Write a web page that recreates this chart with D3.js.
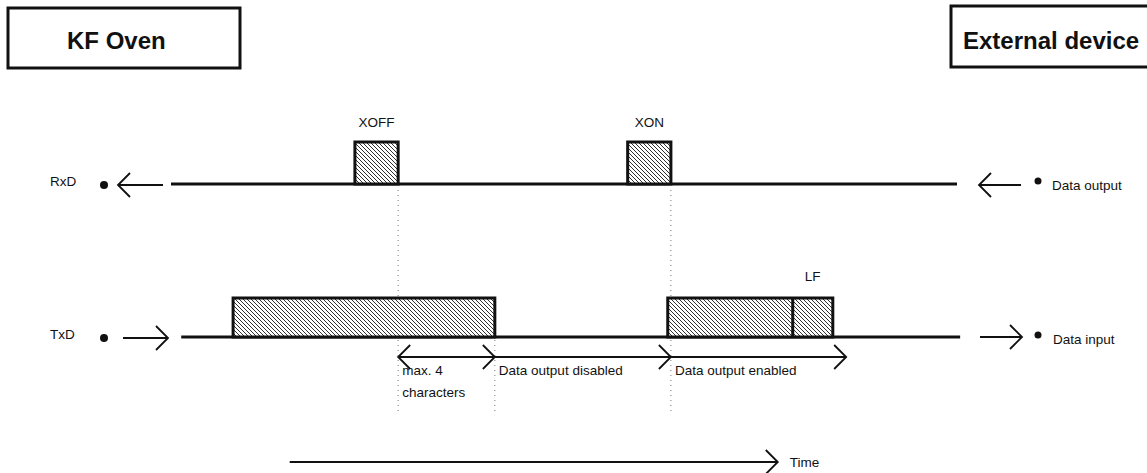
<!DOCTYPE html>
<html>
<head>
<meta charset="utf-8">
<script src="https://cdn.jsdelivr.net/npm/d3@7"></script>
<style>
  body { margin: 0; background: #fff; }
  text { font-family: "Liberation Sans", Arial, sans-serif; fill: #111; }
</style>
</head>
<body>
<svg></svg>
<script>
var screenWidth = 1147
var screenHeight = 473

// time values (arbitrary units, 0..100 along the signal lines)
var lineSpan = [0, 100]
var rxdFrames = [
  {label: "XOFF", start: 23.4, end: 28.9},
  {label: "XON", start: 58.1, end: 63.6}
]
var txdFrames = [
  {label: "", start: 7.9, end: 41.2},
  {label: "LF", start: 63.2, end: 84.2, split: 79.1}
]
var txdSpan = [1.3, 100.4]
var markers = [28.9, 41.2, 63.6]
var intervals = [
  {from: 28.9, to: 41.2, both: true, text: ["max. 4", "characters"]},
  {from: 41.2, to: 63.6, both: false, text: ["Data output disabled"]},
  {from: 63.6, to: 85.9, both: false, text: ["Data output enabled"]}
]
var timeSpan = [15.1, 77.2]

var x = d3.scaleLinear().domain(lineSpan).range([171, 957])

var rxdY = 184, txdY = 337, frameTopRx = 142, frameTopTx = 298
var fs = 13.5

var svg = d3.select('svg')
svg.attr("width", screenWidth)
svg.attr("height", screenHeight)

var pat = svg.append("defs").append("pattern")
  .attr("id", "hatch")
  .attr("patternUnits", "userSpaceOnUse")
  .attr("width", 4).attr("height", 4)
pat.append("rect").attr("width", 4).attr("height", 4).attr("fill", "#fff")
pat.append("path").attr("d", "M-1,-1 L5,5 M3,-1 L5,1 M-1,3 L1,5")
  .attr("stroke", "#333").attr("stroke-width", 1)

function headerBox(x0, y0, w, h, label, tx){
  svg.append("rect").attr("x", x0).attr("y", y0).attr("width", w).attr("height", h)
    .attr("fill", "none").attr("stroke", "#111").attr("stroke-width", 3)
  svg.append("text").attr("x", tx).attr("y", 49)
    .attr("font-size", 24).attr("font-weight", "bold").text(label)
}
headerBox(8, 8, 232, 60, "KF Oven", 67)
headerBox(951, 6, 210, 61, "External device", 963)

function chevron(tipX, y, dir, len, half){
  svg.append("path")
    .attr("d", "M" + (tipX - dir * len) + "," + (y - half) + " L" + tipX + "," + y + " L" + (tipX - dir * len) + "," + (y + half))
    .attr("fill", "none").attr("stroke", "#111").attr("stroke-width", 1.8)
}
function arrow(x1, x2, y, both){
  svg.append("line").attr("x1", x1).attr("x2", x2).attr("y1", y).attr("y2", y)
    .attr("stroke", "#111").attr("stroke-width", 1.8)
  chevron(x2, y, x2 > x1 ? 1 : -1, 12, 12)
  if(both) chevron(x1, y, x2 > x1 ? -1 : 1, 12, 12)
}

// dotted markers
svg.selectAll(".marker").data(markers).enter().append("line")
  .attr("x1", d => x(d)).attr("x2", d => x(d))
  .attr("y1", (d, i) => i == 1 ? 340 : 190).attr("y2", 412)
  .attr("stroke", "#777").attr("stroke-width", 1).attr("stroke-dasharray", "1,4")

// signal lines
svg.append("line").attr("x1", x(lineSpan[0])).attr("x2", x(lineSpan[1]))
  .attr("y1", rxdY).attr("y2", rxdY).attr("stroke", "#111").attr("stroke-width", 3)
svg.append("line").attr("x1", x(txdSpan[0])).attr("x2", x(txdSpan[1]))
  .attr("y1", txdY).attr("y2", txdY).attr("stroke", "#111").attr("stroke-width", 3)

function frames(data, top, base){
  var g = svg.append("g")
  g.selectAll("rect").data(data).enter().append("rect")
    .attr("x", d => x(d.start)).attr("y", top)
    .attr("width", d => x(d.end) - x(d.start)).attr("height", base - top)
    .attr("fill", "url(#hatch)").attr("stroke", "#111").attr("stroke-width", 3)
  g.selectAll(".split").data(data.filter(d => d.split)).enter().append("line")
    .attr("x1", d => x(d.split)).attr("x2", d => x(d.split))
    .attr("y1", top).attr("y2", base).attr("stroke", "#111").attr("stroke-width", 3)
  return g
}
frames(rxdFrames, frameTopRx, rxdY)
frames(txdFrames, frameTopTx, txdY)

svg.selectAll(".rxlab").data(rxdFrames).enter().append("text")
  .attr("x", d => x((d.start + d.end) / 2)).attr("y", 127)
  .attr("text-anchor", "middle").attr("font-size", fs).text(d => d.label)
svg.selectAll(".txlab").data(txdFrames.filter(d => d.split)).enter().append("text")
  .attr("x", d => x((d.split + d.end) / 2) - 8).attr("y", 281)
  .attr("font-size", fs).text(d => d.label)

// side labels / arrows
svg.append("text").attr("x", 50).attr("y", 186).attr("font-size", fs).text("RxD")
svg.append("text").attr("x", 50).attr("y", 339).attr("font-size", fs).text("TxD")
svg.append("circle").attr("cx", 104).attr("cy", 185).attr("r", 4).attr("fill", "#111")
svg.append("circle").attr("cx", 104).attr("cy", 338).attr("r", 4).attr("fill", "#111")
arrow(163, 118, 185, false)
arrow(123, 168, 338, false)

arrow(1021, 979, 185, false)
arrow(980, 1022, 337, false)
svg.append("circle").attr("cx", 1038).attr("cy", 181).attr("r", 3.5).attr("fill", "#111")
svg.append("circle").attr("cx", 1038).attr("cy", 335).attr("r", 3.5).attr("fill", "#111")
svg.append("text").attr("x", 1052).attr("y", 190).attr("font-size", fs).text("Data output")
svg.append("text").attr("x", 1053).attr("y", 344).attr("font-size", fs).text("Data input")

// intervals below TxD
intervals.forEach(function(d){
  arrow(x(d.from), x(d.to), 357, d.both)
  d.text.forEach(function(t, k){
    svg.append("text").attr("x", x(d.from) + 4).attr("y", 375 + k * 22)
      .attr("font-size", fs).text(t)
  })
})

// time axis
arrow(x(timeSpan[0]), x(timeSpan[1]), 462, false)
svg.append("text").attr("x", x(timeSpan[1]) + 12).attr("y", 467).attr("font-size", fs).text("Time")
</script>
</body>
</html>
